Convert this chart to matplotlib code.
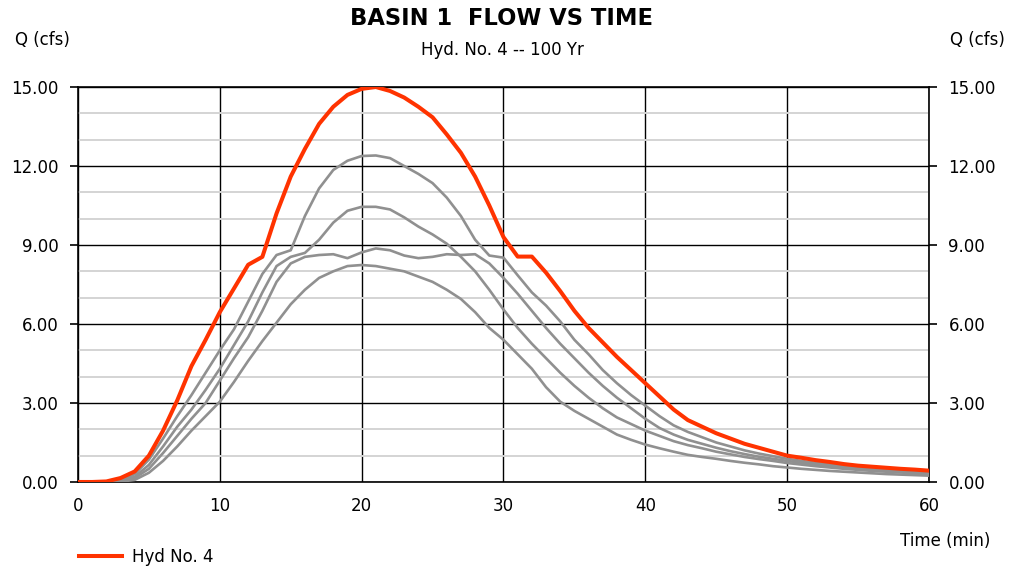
import matplotlib
matplotlib.use("Agg")
import matplotlib.pyplot as plt
from matplotlib.ticker import MultipleLocator, FormatStrFormatter

# time in minutes
time_min = list(range(0, 61))

# Hyd No. 4 (100 Yr) - highlighted
hyd4 = [0, 0, 0.02, 0.15, 0.4, 1.0, 1.95, 3.1, 4.4, 5.4,
        6.45, 7.35, 8.25, 8.55, 10.2, 11.6, 12.65, 13.6, 14.25, 14.7,
        14.93, 15.0, 14.85, 14.6, 14.25, 13.85, 13.2, 12.5, 11.6, 10.5,
        9.3, 8.56, 8.56, 7.95, 7.25, 6.5, 5.85, 5.3, 4.75, 4.25,
        3.75, 3.25, 2.75, 2.35, 2.1, 1.85, 1.65, 1.45, 1.3, 1.15,
        1.0, 0.92, 0.83, 0.76, 0.68, 0.62, 0.58, 0.54, 0.5, 0.47, 0.43]

# other return periods (gray)
hyd_a = [0, 0, 0, 0.05, 0.3, 0.85, 1.65, 2.5, 3.3, 4.15,
         5.0, 5.8, 6.85, 7.9, 8.62, 8.8, 10.1, 11.15, 11.85, 12.2,
         12.38, 12.4, 12.3, 12.0, 11.7, 11.35, 10.8, 10.1, 9.2, 8.6,
         8.52, 7.85, 7.2, 6.7, 6.1, 5.4, 4.85, 4.25, 3.75, 3.3,
         2.9, 2.5, 2.15, 1.9, 1.7, 1.5, 1.35, 1.2, 1.08, 0.98,
         0.88, 0.8, 0.73, 0.66, 0.6, 0.55, 0.5, 0.46, 0.42, 0.39, 0.36]
hyd_b = [0, 0, 0, 0.03, 0.2, 0.65, 1.35, 2.1, 2.75, 3.5,
         4.3, 5.2, 6.1, 7.2, 8.2, 8.55, 8.7, 9.2, 9.85, 10.3,
         10.45, 10.45, 10.35, 10.05, 9.7, 9.4, 9.05, 8.55, 8.0, 7.3,
         6.55, 5.85, 5.25, 4.7, 4.15, 3.65, 3.2, 2.8, 2.45, 2.2,
         1.95, 1.75, 1.55, 1.4, 1.28, 1.15, 1.05, 0.95, 0.87, 0.8,
         0.72, 0.66, 0.6, 0.55, 0.5, 0.46, 0.42, 0.39, 0.36, 0.33, 0.31]
hyd_c = [0, 0, 0, 0.02, 0.15, 0.5, 1.1, 1.75, 2.4, 3.0,
         3.85, 4.7, 5.5, 6.5, 7.6, 8.3, 8.55, 8.62, 8.65, 8.5,
         8.72, 8.87, 8.8, 8.6, 8.5, 8.55, 8.65, 8.62, 8.65, 8.3,
         7.75, 7.15, 6.5, 5.85, 5.25, 4.7, 4.15, 3.65, 3.2, 2.8,
         2.4, 2.05, 1.8, 1.6, 1.45, 1.3, 1.17, 1.06, 0.96, 0.88,
         0.8, 0.73, 0.67, 0.61, 0.56, 0.52, 0.48, 0.44, 0.41, 0.38, 0.35]
hyd_d = [0, 0, 0, 0.01, 0.08, 0.35, 0.8, 1.35, 1.95, 2.5,
         3.05, 3.8, 4.6, 5.35, 6.05, 6.75, 7.3, 7.75, 8.0, 8.2,
         8.24, 8.2, 8.1, 8.0, 7.8, 7.6, 7.3, 6.95, 6.45, 5.85,
         5.4, 4.85, 4.3, 3.6, 3.05, 2.7, 2.4, 2.1, 1.8, 1.6,
         1.42, 1.28, 1.15, 1.03, 0.95, 0.88, 0.8, 0.73, 0.67, 0.6,
         0.55, 0.5, 0.46, 0.42, 0.39, 0.36, 0.33, 0.3, 0.28, 0.26, 0.24]

plt.rcParams["font.family"] = ["DejaVu Sans"]

fig = plt.figure(figsize=(10.10, 5.71), dpi=100)
ax = fig.add_axes([0.0772, 0.1559, 0.8426, 0.6917])

for q in [hyd_d, hyd_c, hyd_b, hyd_a]:
    ax.plot(time_min, q, color="#909090", lw=1.9, zorder=3)
ax.plot(time_min, hyd4, color="#ff3300", lw=2.9, zorder=4)

ax.set_xlim(0, 60)
ax.set_ylim(0, 15)
ax.xaxis.set_major_locator(MultipleLocator(10))
ax.yaxis.set_major_locator(MultipleLocator(3))
ax.yaxis.set_minor_locator(MultipleLocator(1))
ax.yaxis.set_major_formatter(FormatStrFormatter("%.2f"))

ax.grid(which="major", color="black", lw=1.0, zorder=1)
ax.grid(which="minor", axis="y", color="#d4d4d4", lw=1.4, zorder=0)
for s in ax.spines.values():
    s.set_linewidth(1.2)

ax.tick_params(axis="y", which="major", length=6, width=1.2, pad=8,
               labelsize=12, left=True, right=True,
               labelleft=True, labelright=True)
ax.tick_params(axis="y", which="minor", length=0)
ax.tick_params(axis="x", length=0, pad=11, labelsize=12)

fig.text(0.497, 0.968, "BASIN 1  FLOW VS TIME", ha="center", va="center",
         fontsize=16.3, fontweight="bold")
fig.text(0.497, 0.912, "Hyd. No. 4 -- 100 Yr", ha="center", va="center",
         fontsize=12)
fig.text(0.015, 0.93, "Q (cfs)", ha="left", va="center", fontsize=12)
fig.text(0.995, 0.93, "Q (cfs)", ha="right", va="center", fontsize=12)
fig.text(0.981, 0.052, "Time (min)", ha="right", va="center", fontsize=12)

fig.legend(handles=ax.lines[-1:], labels=["Hyd No. 4"], loc="center left",
           bbox_to_anchor=(0.063, 0.025), frameon=False, fontsize=12,
           handlelength=2.6, handletextpad=0.6)

fig.savefig("out.png", dpi=100)
